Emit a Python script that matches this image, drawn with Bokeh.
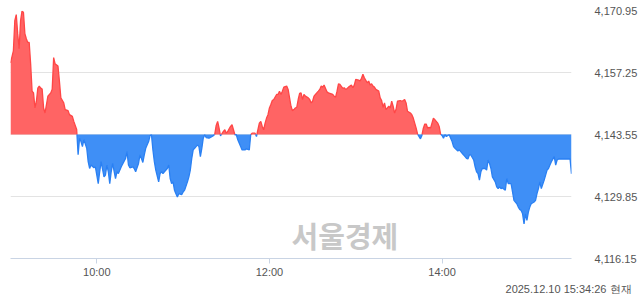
import numpy as np
from bokeh.plotting import figure
from bokeh.models import Range1d, FixedTicker, NumeralTickFormatter, Label, Title
from bokeh.embed import file_html
from bokeh.resources import INLINE

# ---- data (minutes after 09:00, index value) ----
minutes = [0, 2, 3, 4, 5, 6, 7, 8, 9, 10, 11, 12, 13, 14, 15, 16, 17, 18, 19, 20,
           21, 22, 23, 24, 26, 28, 29, 30, 31, 33, 34, 35, 37, 38, 40, 41, 43, 44, 46, 47,
           48, 49, 50, 51, 53, 54, 55, 56, 58, 59, 60, 61, 62, 63, 65, 66, 67, 68, 69, 70,
           71, 73, 74, 75, 77, 80, 81, 82, 83, 85, 86, 87, 89, 90, 91, 92, 93, 94, 96, 97,
           98, 99, 100, 101, 103, 104, 105, 106, 107, 109, 110, 111, 112, 113, 114, 115, 116, 117, 119, 120,
           121, 123, 124, 125, 126, 127, 128, 130, 131, 132, 133, 134, 135, 136, 138, 139, 141, 142, 143, 144,
           145, 146, 148, 149, 150, 151, 152, 153, 154, 155, 156, 157, 158, 160, 161, 163, 164, 166, 167, 168,
           170, 171, 172, 173, 174, 175, 176, 177, 178, 179, 180, 181, 182, 183, 185, 186, 187, 188, 189, 190,
           192, 193, 194, 195, 196, 197, 198, 199, 200, 201, 202, 203, 204, 205, 207, 208, 209, 210, 211, 212,
           214, 215, 216, 217, 218, 219, 220, 221, 223, 224, 225, 226, 227, 228, 229, 231, 232, 233, 234, 235,
           237, 238, 239, 240, 242, 243, 244, 245, 246, 248, 249, 250, 251, 252, 253, 254, 256, 257, 258, 259,
           260, 261, 263, 264, 265, 266, 267, 268, 269, 271, 272, 273, 274, 275, 276, 278, 279, 280, 281, 282,
           283, 285, 286, 287, 288, 289, 290, 291, 292, 293, 294, 295, 297, 298, 299, 300, 301, 302, 303, 305,
           306, 307, 308, 309, 311, 312, 313, 315, 316, 317, 318, 319, 320, 322, 323, 324, 325, 326, 327, 328,
           330, 331, 332, 333, 334, 335, 337, 338, 339, 340, 341, 342, 344, 345, 346, 347, 348, 349, 350, 352,
           353, 354, 355, 356, 357, 358, 359, 360, 361, 362, 364, 365, 366, 367, 368, 369, 371, 372, 373, 374,
           375, 376, 378, 379, 380, 381, 383, 385, 387, 389, 390]

index_values = [
    4159.37, 4162.04, 4168.72, 4170.06, 4165.83, 4162.49, 4168.72, 4170.80, 4170.57, 4165.83,
    4164.71, 4163.89, 4163.89, 4159.15, 4153.13, 4152.75, 4149.41, 4150.90, 4153.80, 4154.25,
    4153.80, 4153.58, 4149.41, 4148.30, 4152.02, 4152.75, 4153.58, 4160.55, 4159.15, 4158.70,
    4155.36, 4151.64, 4150.53, 4149.06, 4148.83, 4147.94, 4147.56, 4146.45, 4144.67, 4139.10,
    4142.73, 4141.99, 4140.88, 4142.44, 4140.50, 4137.54, 4136.04, 4136.80, 4136.20, 4136.42,
    4134.58, 4132.70, 4135.31, 4137.54, 4134.20, 4134.58, 4136.80, 4135.31, 4132.70, 4135.31,
    4137.16, 4133.82, 4135.31, 4134.93, 4136.42, 4138.27, 4139.77, 4136.80, 4136.20, 4136.42,
    4136.04, 4135.31, 4137.16, 4139.03, 4138.27, 4137.38, 4139.03, 4140.50, 4141.99, 4143.26,
    4143.49, 4140.15, 4137.54, 4135.69, 4133.08, 4134.93, 4135.31, 4134.93, 4135.31, 4136.04,
    4136.80, 4133.82, 4132.70, 4133.08, 4131.24, 4130.48, 4129.74, 4130.48, 4130.25, 4130.85,
    4131.24, 4133.08, 4134.20, 4135.69, 4138.27, 4140.15, 4140.50, 4141.26, 4140.88, 4138.65,
    4140.50, 4142.73, 4143.49, 4142.88, 4142.73, 4142.88, 4143.26, 4143.62, 4145.56, 4146.45,
    4144.95, 4143.26, 4144.22, 4144.60, 4143.84, 4144.22, 4144.82, 4145.34, 4145.71, 4144.60,
    4143.49, 4143.49, 4142.37, 4140.88, 4140.15, 4140.15, 4140.37, 4140.15, 4143.49, 4143.84,
    4143.84, 4143.11, 4144.60, 4146.07, 4146.45, 4145.34, 4144.60, 4146.07, 4147.18, 4147.94,
    4149.41, 4150.17, 4151.06, 4151.28, 4152.40, 4152.40, 4153.13, 4152.40, 4153.13, 4154.02,
    4154.25, 4153.51, 4151.64, 4149.79, 4148.83, 4149.06, 4149.41, 4149.57, 4151.28, 4152.62,
    4152.75, 4151.28, 4152.40, 4152.02, 4151.64, 4151.28, 4150.53, 4150.90, 4152.02, 4152.40,
    4153.13, 4153.51, 4154.25, 4154.02, 4154.47, 4153.73, 4152.97, 4152.75, 4152.53, 4152.40,
    4152.02, 4151.79, 4153.13, 4154.76, 4154.62, 4153.73, 4153.87, 4153.51, 4153.73, 4154.02,
    4154.47, 4153.87, 4154.47, 4155.74, 4155.58, 4155.36, 4155.96, 4156.85, 4156.09, 4154.98,
    4155.36, 4154.47, 4154.76, 4154.25, 4154.02, 4153.51, 4153.13, 4151.64, 4151.06, 4149.57,
    4150.53, 4149.06, 4149.79, 4149.41, 4150.90, 4149.79, 4148.30, 4149.06, 4150.90, 4151.06,
    4150.90, 4151.06, 4151.28, 4150.53, 4148.68, 4148.30, 4147.94, 4147.18, 4146.07, 4144.95,
    4143.62, 4142.59, 4143.33, 4144.95, 4145.85, 4145.85, 4144.95, 4145.11, 4144.95, 4146.07,
    4147.18, 4146.83, 4146.07, 4145.34, 4143.62, 4143.33, 4142.73, 4143.49, 4143.11, 4143.49,
    4142.73, 4141.99, 4140.88, 4140.50, 4139.92, 4140.15, 4139.77, 4139.03, 4138.65, 4138.27,
    4138.14, 4139.03, 4139.03, 4137.92, 4136.42, 4135.31, 4134.93, 4133.46, 4135.31, 4136.04,
    4136.04, 4135.69, 4137.92, 4137.16, 4136.04, 4134.20, 4133.08, 4131.97, 4131.59, 4131.97,
    4131.59, 4131.75, 4131.23, 4133.82, 4132.70, 4132.70, 4132.70, 4130.85, 4129.00, 4128.25,
    4127.51, 4127.00, 4126.78, 4126.02, 4123.79, 4126.02, 4124.55, 4126.40, 4127.51, 4128.25,
    4128.63, 4129.00, 4130.48, 4131.59, 4133.08, 4131.59, 4133.46, 4134.57, 4135.69, 4136.04,
    4136.80, 4137.54, 4138.65, 4136.80, 4137.92, 4138.14, 4138.14, 4138.14, 4138.14, 4138.14,
    4134.86]

prev_close = 4143.55
y_ticks = [4116.15, 4129.85, 4143.55, 4157.25, 4170.95]
x_ticks = [60, 180, 300]
x_tick_labels = ["10:00", "12:00", "14:00"]
session_minutes = 390
footnote = "2025.12.10 15:34:26 현재"
watermark = "서울경제"

# ---- split series at the previous close (insert crossing points) ----
ax, ay = [minutes[0]], [index_values[0]]
for i in range(1, len(minutes)):
    x0, y0 = minutes[i - 1], index_values[i - 1]
    x1, y1 = minutes[i], index_values[i]
    if (y0 - prev_close) * (y1 - prev_close) < 0:
        t = (prev_close - y0) / (y1 - y0)
        ax.append(x0 + t * (x1 - x0))
        ay.append(prev_close)
    ax.append(x1)
    ay.append(y1)
ax = np.array(ax, dtype=float)
ay = np.array(ay, dtype=float)
up = np.maximum(ay, prev_close)
dn = np.minimum(ay, prev_close)
up_line = np.where(ay >= prev_close, ay, np.nan)
dn_line = np.where(ay <= prev_close, ay, np.nan)

RED_FILL, RED_LINE = "#ff6464", "#ff4646"
BLUE_FILL, BLUE_LINE = "#3f8ff6", "#2a80f3"
TXT = "#555555"
FONT = "Liberation Sans"

p = figure(width=640, height=294, output_backend="svg", toolbar_location=None,
           x_range=Range1d(0, session_minutes), y_range=Range1d(y_ticks[0], y_ticks[-1]),
           y_axis_location="right", min_border_left=10, min_border_right=68,
           min_border_top=10, min_border_bottom=0)
p.outline_line_color = None
p.background_fill_color = "white"
p.border_fill_color = "white"

p.varea(x=ax, y1=prev_close, y2=up, fill_color=RED_FILL)
p.varea(x=ax, y1=prev_close, y2=dn, fill_color=BLUE_FILL)
p.line(ax, up_line, line_color=RED_LINE, line_width=1.3)
p.line(ax, dn_line, line_color=BLUE_LINE, line_width=1.3)

# y axis (right)
ya = p.yaxis[0]
ya.ticker = FixedTicker(ticks=y_ticks)
ya.formatter = NumeralTickFormatter(format="0,0.00")
ya.axis_line_color = None
ya.major_tick_line_color = None
ya.minor_tick_line_color = None
ya.major_label_standoff = 17
ya.major_label_text_font = FONT
ya.major_label_text_font_size = "11px"
ya.major_label_text_color = TXT
p.ygrid.ticker = FixedTicker(ticks=y_ticks)
p.ygrid.grid_line_color = "#e3e3e3"
p.xgrid.visible = False

# x axis
xa = p.xaxis[0]
xa.ticker = FixedTicker(ticks=x_ticks)
xa.major_label_overrides = {t: l for t, l in zip(x_ticks, x_tick_labels)}
xa.axis_line_color = "#c9d4e4"
xa.major_tick_line_color = "#c9d4e4"
xa.minor_tick_line_color = None
xa.major_tick_out = 5
xa.major_tick_in = 0
xa.major_label_standoff = 2
xa.major_label_text_font = FONT
xa.major_label_text_font_size = "11px"
xa.major_label_text_color = TXT

# watermark
p.add_layout(Label(x=232.5, y=4121.3, text=watermark, text_align="center",
                   text_baseline="middle", text_font="Noto Sans CJK KR",
                   text_font_style="bold", text_font_size="29px", text_color="#c8c8c8"))
# footnote (title below the x axis, right aligned)
p.add_layout(Title(text=footnote, align="right", offset=-60, standoff=0,
                   text_font=FONT, text_font_style="normal",
                   text_font_size="11px", text_color=TXT), "below")

open("out.html", "w").write(file_html(p, INLINE))
